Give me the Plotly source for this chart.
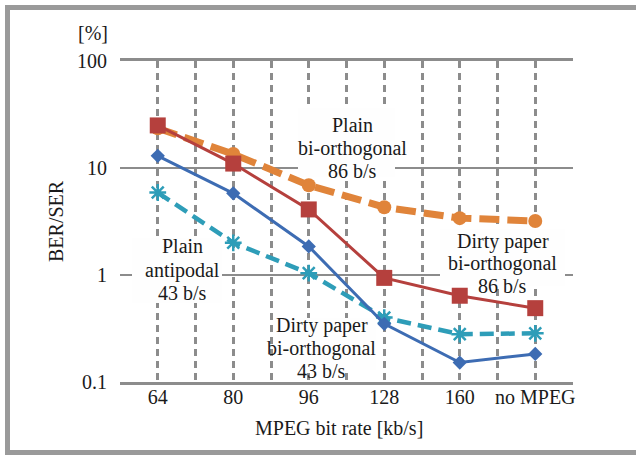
import plotly.graph_objects as go

# MPEG bit-rate categories along the x axis
categories = ["64", "80", "96", "128", "160", "no MPEG"]

# BER/SER in percent for each scheme
dirty_biorth_86 = [25, 11, 4.1, 0.94, 0.64, 0.49]
plain_biorth_86 = [23.5, 13.5, 6.9, 4.3, 3.4, 3.2]
plain_antipodal_43 = [13, 5.8, 1.85, 0.35, 0.152, 0.183]
dirty_biorth_43 = [5.9, 2.0, 1.04, 0.40, 0.28, 0.285]

y_ticks = [0.1, 1, 10, 100]
y_ticktext = ["0.1", "1", "10", "100"]
y_log_range = [-1, 2]

xs = list(range(len(categories)))

W, H = 636, 455
ML, MR, MT, MB = 120, 63, 61, 73
PW, PH = W - ML - MR, H - MT - MB

FONT = "Liberation Serif, Times New Roman, serif"
GRID = "#8c8c8c"
TEXT = "#1a1a1a"
PANEL = "#fefefe"


def px_x(px):
    return (px - ML) / PW


def px_y(py):
    return (H - MB - py) / PH


fig = go.Figure()

fig.add_trace(go.Scatter(
    x=xs, y=plain_biorth_86, mode="lines+markers",
    line=dict(color="#E0843A", width=7, dash="20px,8px"),
    marker=dict(symbol="circle", size=14, color="#E0843A"),
))
fig.add_trace(go.Scatter(
    x=xs, y=dirty_biorth_86, mode="lines+markers",
    line=dict(color="#B5403D", width=3),
    marker=dict(symbol="square", size=16, color="#B5403D"),
))
fig.add_trace(go.Scatter(
    x=xs, y=dirty_biorth_43, mode="lines+markers",
    line=dict(color="#2E9DB8", width=4.5, dash="14px,7px"),
    marker=dict(symbol="asterisk-open", size=14,
                line=dict(color="#2E9DB8", width=2.5)),
))
fig.add_trace(go.Scatter(
    x=xs, y=plain_antipodal_43, mode="lines+markers",
    line=dict(color="#3D6CB3", width=3),
    marker=dict(symbol="diamond", size=11, color="#3D6CB3"),
))

# light panels behind the curve labels (pixel boxes: left, top, right, bottom)
label_boxes = [
    (298, 108, 395, 177),
    (132, 238, 222, 303),
    (278, 318, 376, 370),
    (440, 229, 565, 286),
]
for x0, y0, x1, y1 in label_boxes:
    fig.add_annotation(x=px_x((x0 + x1) / 2), y=px_y((y0 + y1) / 2),
                       xref="paper", yref="paper", text=" ", showarrow=False,
                       xanchor="center", yanchor="middle",
                       width=x1 - x0, height=y1 - y0, borderpad=0, borderwidth=0,
                       bgcolor=PANEL, font=dict(size=2))

# curve labels, one line per annotation for tight line spacing
labels = [
    (352, [132, 155, 178], ["Plain", "bi-orthogonal", "86 b/s"]),
    (182.5, [253, 277, 300], ["Plain", "antipodal", "43 b/s"]),
    (321.5, [332, 355, 378], ["Dirty paper", "bi-orthogonal", "43 b/s"]),
    (502.5, [248, 270, 293], ["Dirty paper", "bi-orthogonal", "86 b/s"]),
]
for cx, baselines, lines in labels:
    for b, t in zip(baselines, lines):
        fig.add_annotation(x=px_x(cx), y=px_y(b - 7), xref="paper", yref="paper",
                           text=t, showarrow=False, xanchor="center", yanchor="middle",
                           font=dict(family=FONT, size=20, color=TEXT))

fig.add_annotation(x=px_x(93), y=px_y(33), xref="paper", yref="paper",
                   text="[%]", showarrow=False, xanchor="center", yanchor="middle",
                   font=dict(family=FONT, size=20, color=TEXT))
fig.add_annotation(x=px_x(56), y=px_y(221), xref="paper", yref="paper",
                   text="BER/SER", textangle=-90, showarrow=False,
                   xanchor="center", yanchor="middle",
                   font=dict(family=FONT, size=20, color=TEXT))
fig.add_annotation(x=px_x(339), y=px_y(428), xref="paper", yref="paper",
                   text="MPEG bit rate [kb/s]", showarrow=False,
                   xanchor="center", yanchor="middle",
                   font=dict(family=FONT, size=20, color=TEXT))

# outer frame (right edge falls just outside the page)
fig.add_shape(type="rect", xref="paper", yref="paper",
              x0=px_x(7.5), x1=px_x(645), y0=px_y(452.5), y1=px_y(7.5),
              line=dict(color="#9a9a9a", width=5), fillcolor="rgba(0,0,0,0)")

fig.update_layout(
    width=W, height=H,
    margin=dict(l=ML, r=MR, t=MT, b=MB),
    paper_bgcolor="white", plot_bgcolor="white",
    showlegend=False,
    font=dict(family=FONT, size=20, color=TEXT),
)
fig.update_xaxes(
    range=[-0.5, len(categories) - 0.5],
    tickmode="array", tickvals=xs, ticktext=categories,
    showgrid=True, gridcolor=GRID, gridwidth=2.5, griddash="7px,5px",
    minor=dict(tickmode="array", tickvals=[i - 0.5 for i in range(len(categories) + 1)],
               showgrid=True, gridcolor=GRID, gridwidth=2.5, griddash="7px,5px"),
    showline=True, linecolor=GRID, linewidth=2.5, mirror=True,
    zeroline=False, ticks="", ticklabelstandoff=-5,
    tickfont=dict(family=FONT, size=20, color=TEXT),
)
fig.update_yaxes(
    type="log", range=y_log_range,
    tickmode="array", tickvals=y_ticks, ticktext=y_ticktext,
    showgrid=True, gridcolor=GRID, gridwidth=2,
    showline=False, zeroline=False, ticks="", ticklabelstandoff=12,
    tickfont=dict(family=FONT, size=20, color=TEXT),
)

fig.write_html("out.html")
